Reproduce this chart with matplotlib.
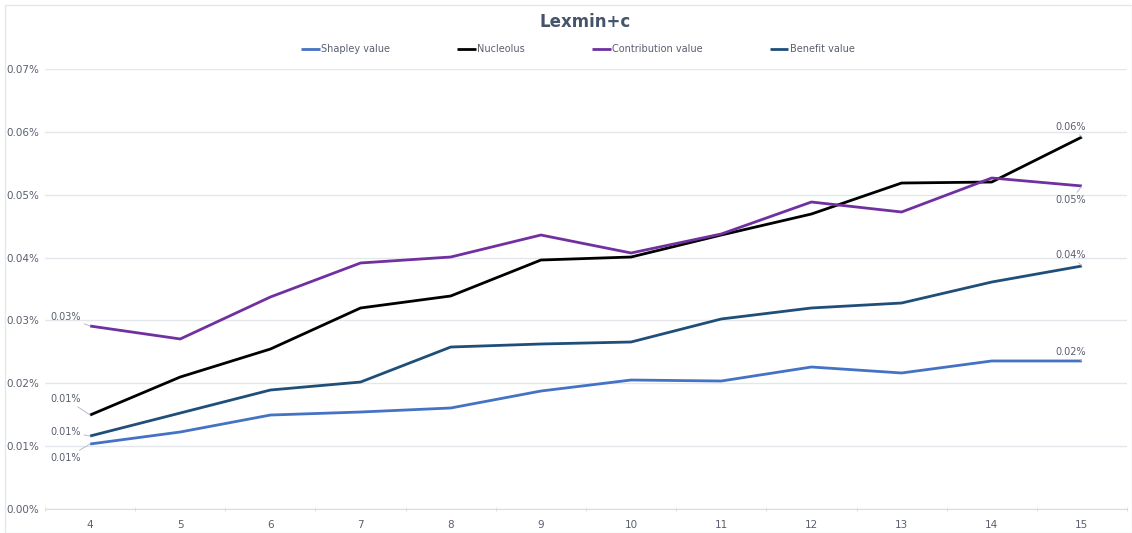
import matplotlib
matplotlib.use("Agg")
import matplotlib.pyplot as plt
from matplotlib.patches import Rectangle

players = [4, 5, 6, 7, 8, 9, 10, 11, 12, 13, 14, 15]
shapley = [0.01034, 0.01225, 0.01495, 0.01543, 0.01607, 0.01877, 0.02052, 0.02036, 0.02259, 0.02164, 0.02355, 0.02355]
nucleolus = [0.01495, 0.02100, 0.02545, 0.03198, 0.03389, 0.03961, 0.04009, 0.04359, 0.04693, 0.05186, 0.05202, 0.05918]
contribution = [0.02911, 0.02705, 0.03373, 0.03914, 0.04009, 0.04359, 0.04073, 0.04375, 0.04884, 0.04725, 0.05266, 0.05139]
benefit = [0.01161, 0.01527, 0.01893, 0.02020, 0.02577, 0.02625, 0.02657, 0.03023, 0.03198, 0.03277, 0.03611, 0.03866]
yticks = [0.00, 0.01, 0.02, 0.03, 0.04, 0.05, 0.06, 0.07]

series = [
    ("Shapley value", shapley, "#4472c4"),
    ("Nucleolus", nucleolus, "#000000"),
    ("Contribution value", contribution, "#7030a0"),
    ("Benefit value", benefit, "#1f4e79"),
]

txt = "#595f6e"
W, H = 1132, 533
fig = plt.figure(figsize=(W / 100, H / 100), dpi=100)
fig.patches.append(Rectangle((5 / W, 0), 1 - 5 / W, 1 - 5 / H, transform=fig.transFigure,
                             fill=False, edgecolor="#e3e6ea", lw=1))

ax = fig.add_axes([45 / W, 1 - 509 / H, (1127 - 45) / W, (509 - 69) / H])
xs = list(range(len(players)))
for name, vals, col in series:
    ax.plot(xs, vals, color=col, lw=2, label=name, solid_capstyle="butt")

ax.set_xlim(-0.5, len(players) - 0.5)
ax.set_ylim(0, 0.07)
ax.set_yticks(yticks)
ax.set_yticklabels([f"{v:.2f}%" for v in yticks])
ax.set_xticks(xs)
ax.set_xticklabels([str(p) for p in players])
ax.set_xticks([x + 0.5 for x in range(-1, len(players))], minor=True)
ax.tick_params(axis="x", which="major", length=0, pad=8, labelsize=7.5, labelcolor=txt)
ax.tick_params(axis="x", which="minor", length=3, color="#d9dde3", direction="inout")
ax.tick_params(axis="y", length=0, pad=4, labelsize=7.5, labelcolor=txt)
ax.grid(axis="y", color="#e3e6ea", lw=1)
ax.set_axisbelow(True)
for s in ["top", "right", "left"]:
    ax.spines[s].set_visible(False)
ax.spines["bottom"].set_color("#d9dde3")

fig.text(585 / W, 1 - 22 / H, "Lexmin+c", ha="center", va="center", fontsize=12,
         fontweight="bold", color="#44546a")

leg = ax.legend(loc="center", bbox_to_anchor=(578 / W, 1 - 49 / H), bbox_transform=fig.transFigure,
                ncol=4, frameon=False, fontsize=7, handlelength=1.9, handletextpad=0.15,
                columnspacing=6.9, labelcolor=txt)

# data labels: first and last points
first_offsets = {"Shapley value": (-24, -14), "Nucleolus": (-24, 16), "Contribution value": (-24, 9), "Benefit value": (-24, 4)}
last_offsets = {"Shapley value": (-11, 9), "Nucleolus": (-11, 10), "Contribution value": (-11, -14), "Benefit value": (-11, 11)}
for name, vals, col in series:
    dx, dy = first_offsets[name]
    ax.annotate(f"{vals[0]:.2f}%", xy=(xs[0], vals[0]), xytext=(dx, dy), textcoords="offset pixels",
                ha="center", va="center", fontsize=7, color=txt,
                arrowprops=dict(arrowstyle="-", color="#b4bccb", lw=0.7, shrinkA=0, shrinkB=0))
    dx, dy = last_offsets[name]
    ax.annotate(f"{vals[-1]:.2f}%", xy=(xs[-1], vals[-1]), xytext=(dx, dy), textcoords="offset pixels",
                ha="center", va="center", fontsize=7, color=txt,
                arrowprops=dict(arrowstyle="-", color="#b4bccb", lw=0.7, shrinkA=0, shrinkB=0))

fig.savefig("out.png", dpi=100)
